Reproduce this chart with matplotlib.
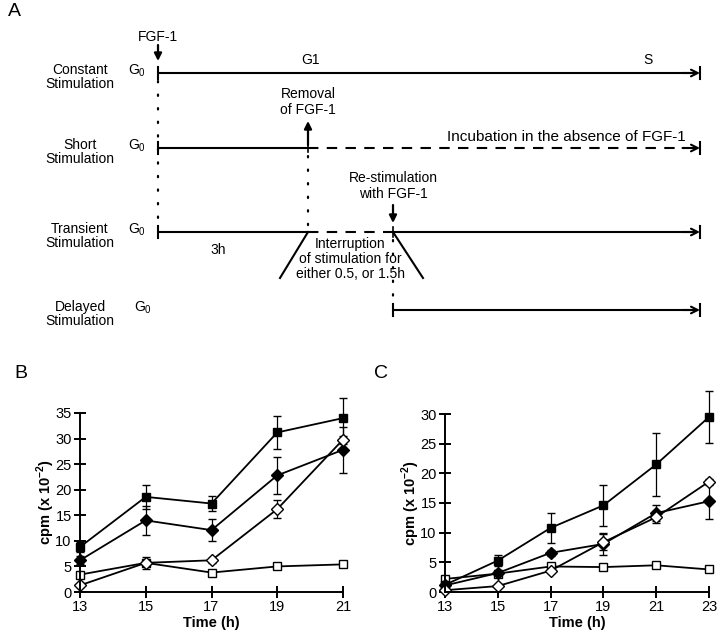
"""FGF-1 stimulation schemes (A) and DNA synthesis time courses (B, C)."""

import matplotlib

matplotlib.use("Agg")
import matplotlib.pyplot as plt

plt.rcParams["font.family"] = ["Liberation Sans", "DejaVu Sans"]
plt.rcParams["mathtext.fontset"] = "custom"
plt.rcParams["mathtext.rm"] = "Liberation Sans"
plt.rcParams["mathtext.bf"] = "Liberation Sans:bold"

# --- panel A timeline (hours after FGF-1 addition) ---
T_FGF = 0.0
T_REMOVAL = 3.0
T_RESTIM = 4.7
T_END = 10.84
ROW_NAMES = ["Constant\nStimulation", "Short\nStimulation", "Transient\nStimulation", "Delayed\nStimulation"]
ROW_Y = [73, 148, 232, 310]

# --- panel B data ---
time_b = [13, 15, 17, 19, 21]
b_filled_sq = [8.8, 18.6, 17.3, 31.2, 34.0]
b_filled_sq_err = [1.0, 2.3, 1.5, 3.2, 3.9]
b_filled_dia = [6.2, 14.0, 12.1, 22.8, 27.8]
b_filled_dia_err = [0.8, 2.8, 2.2, 3.6, 4.5]
b_open_dia = [1.3, 5.7, 6.2, 16.2, 29.8]
b_open_dia_err = [0.3, 1.2, 0.5, 1.8, 0.8]
b_open_sq = [3.4, 5.7, 3.8, 5.0, 5.4]
b_open_sq_err = [0.3, 0.3, 0.3, 0.3, 0.3]

# --- panel C data ---
time_c = [13, 15, 17, 19, 21, 23]
c_filled_sq = [1.2, 5.3, 10.8, 14.6, 21.5, 29.5]
c_filled_sq_err = [0.3, 0.9, 2.5, 3.4, 5.3, 4.4]
c_filled_dia = [1.1, 3.2, 6.6, 8.1, 13.3, 15.3]
c_filled_dia_err = [0.3, 0.5, 0.5, 1.8, 1.3, 3.0]
c_open_dia = [0.3, 1.0, 3.6, 8.4, 12.6, 18.6]
c_open_dia_err = [0.1, 0.2, 0.3, 1.3, 1.0, 0.5]
c_open_sq = [2.2, 3.1, 4.3, 4.2, 4.5, 3.8]
c_open_sq_err = [0.2, 0.2, 0.2, 0.2, 0.2, 0.2]

fig = plt.figure(figsize=(7.2, 6.32), dpi=100)

# ---------------- panel A ----------------
ax_a = fig.add_axes([0, 1 - 340 / 632, 1, 340 / 632])
ax_a.set_xlim(-158 / 50, (720 - 158) / 50)
ax_a.set_ylim(340, 0)
ax_a.axis("off")

LW = 1.5
BAR = 6
ARROW = dict(arrowstyle="-|>", lw=1.6, color="k", mutation_scale=11, shrinkA=0, shrinkB=0)


def start_bar(t, y):
    ax_a.plot([t, t], [y - BAR, y + BAR], color="k", lw=LW)


def end_arrow(t, y):
    ax_a.annotate("", xy=(t, y), xytext=(t - 0.35, y),
                  arrowprops=dict(arrowstyle="->", lw=LW, color="k", mutation_scale=12,
                                  shrinkA=0, shrinkB=0))
    ax_a.plot([t, t], [y - BAR, y + BAR], color="k", lw=LW)


def solid(t0, t1, y):
    ax_a.plot([t0, t1], [y, y], color="k", lw=LW, solid_capstyle="butt")


def dashed(t0, t1, y):
    ax_a.plot([t0, t1], [y, y], color="k", lw=LW, dashes=(5, 4))


def dotted(t, y0, y1):
    ax_a.plot([t, t], [y0, y1], color="k", lw=1.6, linestyle=(0, (0.6, 5.5)),
              dash_capstyle="round")


ax_a.text(-3.0, 12, "A", fontsize=14, va="center", ha="left")

for name, y in zip(ROW_NAMES, ROW_Y):
    ax_a.text(-1.56, y + 4, name, fontsize=10, ha="center", va="center", linespacing=1.0)
    g_x = -0.30 if name.startswith("Delayed") else -0.42
    ax_a.text(g_x, y - 2, "G$_0$", fontsize=10, ha="center", va="center")

# constant
start_bar(T_FGF, ROW_Y[0])
solid(T_FGF, T_END - 0.1, ROW_Y[0])
end_arrow(T_END, ROW_Y[0])
ax_a.text(T_FGF, ROW_Y[0] - 36, "FGF-1", fontsize=10, ha="center", va="center")
ax_a.annotate("", xy=(T_FGF, ROW_Y[0] - 12), xytext=(T_FGF, ROW_Y[0] - 28), arrowprops=ARROW)
ax_a.text(3.04, ROW_Y[0] - 13, "G1", fontsize=10, ha="center", va="center")
ax_a.text(9.8, ROW_Y[0] - 13, "S", fontsize=10, ha="center", va="center")

# short
start_bar(T_FGF, ROW_Y[1])
solid(T_FGF, T_REMOVAL, ROW_Y[1])
dashed(T_REMOVAL, T_END - 0.3, ROW_Y[1])
end_arrow(T_END, ROW_Y[1])
ax_a.plot([T_REMOVAL, T_REMOVAL], [ROW_Y[1] - 4, ROW_Y[1] + 4], color="k", lw=1.2)
ax_a.annotate("", xy=(T_REMOVAL, ROW_Y[1] - 27), xytext=(T_REMOVAL, ROW_Y[1] - 3),
              arrowprops=ARROW)
ax_a.text(T_REMOVAL, ROW_Y[1] - 46, "Removal\nof FGF-1", fontsize=10, ha="center",
          va="center", linespacing=1.1)
ax_a.text(8.16, ROW_Y[1] - 11, "Incubation in the absence of FGF-1", fontsize=11,
          ha="center", va="center")

# transient
start_bar(T_FGF, ROW_Y[2])
solid(T_FGF, T_REMOVAL, ROW_Y[2])
dashed(T_REMOVAL, T_RESTIM, ROW_Y[2])
solid(T_RESTIM, T_END - 0.1, ROW_Y[2])
end_arrow(T_END, ROW_Y[2])
ax_a.plot([T_RESTIM, T_RESTIM], [ROW_Y[2] - 5, ROW_Y[2] + 5], color="k", lw=1.2)
ax_a.plot([T_REMOVAL, T_REMOVAL - 0.56], [ROW_Y[2], ROW_Y[2] + 46], color="k", lw=1.5)
ax_a.plot([T_RESTIM, T_RESTIM + 0.6], [ROW_Y[2], ROW_Y[2] + 46], color="k", lw=1.5)
ax_a.text(T_RESTIM, ROW_Y[2] - 46, "Re-stimulation\nwith FGF-1", fontsize=10,
          ha="center", va="center", linespacing=1.1)
ax_a.annotate("", xy=(T_RESTIM, ROW_Y[2] - 9), xytext=(T_RESTIM, ROW_Y[2] - 27),
              arrowprops=ARROW)
ax_a.text(1.2, ROW_Y[2] + 18, "3h", fontsize=10, ha="center", va="center")
ax_a.text(3.85, ROW_Y[2] + 27, "Interruption\nof stimulation for\neither 0.5, or 1.5h",
          fontsize=10, ha="center", va="center", linespacing=1.05)

# delayed
start_bar(T_RESTIM, ROW_Y[3])
solid(T_RESTIM, T_END - 0.1, ROW_Y[3])
end_arrow(T_END, ROW_Y[3])

dotted(T_FGF, ROW_Y[0] + 8, ROW_Y[2] - 6)
dotted(T_REMOVAL, ROW_Y[1] + 8, ROW_Y[2] - 6)
dotted(T_RESTIM, ROW_Y[2] + 8, ROW_Y[3] - 6)


# ---------------- panels B and C ----------------
def style_axis(ax, xticks, yticks):
    ax.set_xlim(xticks[0], xticks[-1])
    ax.set_ylim(yticks[0], yticks[-1])
    ax.set_xticks(xticks)
    ax.set_yticks(yticks)
    for side in ("top", "right"):
        ax.spines[side].set_visible(False)
    for side in ("left", "bottom"):
        ax.spines[side].set_linewidth(1.4)
    ax.tick_params(direction="inout", length=8, width=1.4, labelsize=10.5, pad=2)
    ax.set_xlabel("Time (h)", fontsize=10.5, fontweight="bold", labelpad=1)
    ax.set_ylabel("cpm (x 10$^{\\mathbf{-2}}$)", fontsize=10.5, fontweight="bold", labelpad=-1)
    ax.patch.set_alpha(0)


def draw_series(ax, x, series):
    for values, errs, marker, face in series:
        ax.errorbar(x, values, yerr=errs, fmt="-" + marker, color="k", mfc=face, mec="k",
                    ms=6.5 if marker == "D" else 6, mew=1.0, lw=1.3, elinewidth=0.9,
                    ecolor="k", capsize=3, capthick=0.9, clip_on=False)


ax_b = fig.add_axes([80 / 720, 1 - 592 / 632, 263 / 720, 179 / 632])
draw_series(ax_b, time_b, [
    (b_open_sq, b_open_sq_err, "s", "white"),
    (b_filled_dia, b_filled_dia_err, "D", "black"),
    (b_filled_sq, b_filled_sq_err, "s", "black"),
    (b_open_dia, b_open_dia_err, "D", "white"),
])
style_axis(ax_b, [13, 15, 17, 19, 21], [0, 5, 10, 15, 20, 25, 30, 35])
fig.text(14 / 720, 1 - 373 / 632, "B", fontsize=14, va="center", ha="left")

ax_c = fig.add_axes([445 / 720, 1 - 592 / 632, 264 / 720, 178 / 632])
draw_series(ax_c, time_c, [
    (c_open_sq, c_open_sq_err, "s", "white"),
    (c_filled_dia, c_filled_dia_err, "D", "black"),
    (c_filled_sq, c_filled_sq_err, "s", "black"),
    (c_open_dia, c_open_dia_err, "D", "white"),
])
style_axis(ax_c, [13, 15, 17, 19, 21, 23], [0, 5, 10, 15, 20, 25, 30])
fig.text(374 / 720, 1 - 373 / 632, "C", fontsize=14, va="center", ha="left")

fig.savefig("out.png", dpi=100)
